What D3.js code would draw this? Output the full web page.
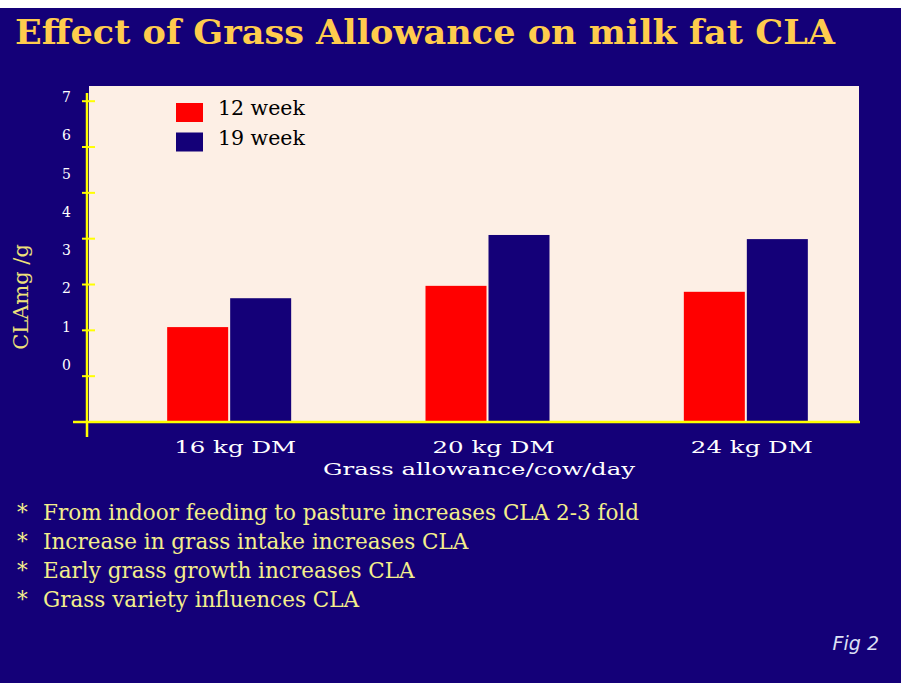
<!DOCTYPE html>
<html>
<head>
<meta charset="utf-8">
<script src="https://cdn.jsdelivr.net/npm/d3@7"></script>
<style>
  html, body { margin: 0; padding: 0; background: #ffffff; }
  svg { display: block; }
</style>
</head>
<body>
<svg id="chart" width="901" height="683"></svg>
<script>
// data
const categories = ["16 kg DM", "20 kg DM", "24 kg DM"];
const seriesNames = ["12 week", "19 week"];
const week12 = [2.06, 2.96, 2.83];
const week19 = [2.69, 4.07, 3.98];
const yTickLabels = [0, 1, 2, 3, 4, 5, 6, 7];
const bullets = [
  "From indoor feeding to pasture increases CLA 2-3 fold",
  "Increase in grass intake increases CLA",
  "Early grass growth increases CLA",
  "Grass variety influences CLA"
];

const bg = "#140078";
const seriesColors = ["#ff0000", "#140078"];
const serif = "'DejaVu Serif', 'Liberation Serif', serif";

const svg = d3.select("#chart");

// slide background (thin white strip on top)
svg.append("rect")
  .attr("x", 0).attr("y", 8)
  .attr("width", 901).attr("height", 675)
  .attr("fill", bg);

// title
svg.append("text")
  .attr("x", 15).attr("y", 44)
  .attr("font-family", serif)
  .attr("font-weight", "bold")
  .attr("font-size", 34)
  .attr("fill", "#ffcc4d")
  .attr("textLength", 820)
  .attr("lengthAdjust", "spacingAndGlyphs")
  .text("Effect of Grass Allowance on milk fat CLA");

// plot area
const plot = { left: 89, right: 859, top: 86, bottom: 421.5 };

svg.append("rect")
  .attr("x", plot.left).attr("y", plot.top)
  .attr("width", plot.right - plot.left)
  .attr("height", plot.bottom - plot.top)
  .attr("fill", "#fdefe5");

const x = d3.scaleBand()
  .domain(categories)
  .range([100, 875]);

const groupWidth = 124;
const xs = d3.scaleBand()
  .domain(seriesNames)
  .range([0, groupWidth]);

// tick marks sit on this scale
const y = d3.scaleLinear().domain([0, 7]).range([plot.bottom, 100.7]);
// the printed numbers sit a bit higher than the ticks on the original slide
const yLabel = d3.scaleLinear().domain([0, 7]).range([365, 97]);

const rows = categories.map((c, i) => ({ cat: c, values: [week12[i], week19[i]] }));

const groups = svg.append("g")
  .selectAll("g")
  .data(rows)
  .join("g")
  .attr("transform", d => `translate(${x(d.cat) + x.bandwidth() / 2 - groupWidth / 2},0)`);

groups.selectAll("rect")
  .data(d => d.values.map((v, k) => ({ name: seriesNames[k], value: v, k })))
  .join("rect")
  .attr("x", d => xs(d.name) + (d.k === 1 ? 1 : 0))
  .attr("width", d => xs.bandwidth() - 1)
  .attr("y", d => y(d.value))
  .attr("height", d => y(0) - y(d.value))
  .attr("fill", d => seriesColors[d.k]);

// y axis: yellow line with crossing ticks
svg.append("line")
  .attr("x1", 87).attr("x2", 87)
  .attr("y1", 93).attr("y2", 437)
  .attr("stroke", "#ffff00")
  .attr("stroke-width", 2.5);

const yTicks = svg.append("g")
  .attr("transform", "translate(95,0)")
  .call(d3.axisLeft(y).tickValues([1, 2, 3, 4, 5, 6, 7]).tickSize(13).tickFormat(""));
yTicks.select(".domain").remove();
yTicks.selectAll(".tick line").attr("stroke", "#ffff00").attr("stroke-width", 2);

const yLabels = svg.append("g")
  .attr("transform", "translate(71,0)")
  .call(d3.axisLeft(yLabel).tickValues(yTickLabels).tickSize(0).tickPadding(0).tickFormat(d3.format("d")));
yLabels.select(".domain").remove();
yLabels.selectAll("text")
  .attr("font-family", serif)
  .attr("font-size", 14)
  .attr("fill", "#ffffff");

// x axis baseline
svg.append("line")
  .attr("x1", 73).attr("x2", 860)
  .attr("y1", 422).attr("y2", 422)
  .attr("stroke", "#ffff00")
  .attr("stroke-width", 2.5);

const xAxis = svg.append("g")
  .attr("transform", "translate(6,422)")
  .call(d3.axisBottom(x).tickSize(0).tickPadding(0));
xAxis.select(".domain").remove();
xAxis.selectAll("text")
  .attr("dy", null)
  .attr("y", 31)
  .attr("font-family", serif)
  .attr("font-size", 17)
  .attr("textLength", 122)
  .attr("lengthAdjust", "spacingAndGlyphs")
  .attr("fill", "#ffffff");

// axis titles
svg.append("text")
  .attr("x", 479).attr("y", 475)
  .attr("text-anchor", "middle")
  .attr("font-family", serif)
  .attr("font-size", 17)
  .attr("textLength", 312)
  .attr("lengthAdjust", "spacingAndGlyphs")
  .attr("fill", "#ffffff")
  .text("Grass allowance/cow/day");

svg.append("text")
  .attr("transform", "translate(28,297) rotate(-90)")
  .attr("text-anchor", "middle")
  .attr("font-family", serif)
  .attr("font-size", 21)
  .attr("fill", "#eee27a")
  .text("CLAmg /g");

// legend
const legend = svg.append("g")
  .selectAll("g")
  .data(seriesNames)
  .join("g")
  .attr("transform", (d, i) => `translate(176,${103 + i * 29.5})`);

legend.append("rect")
  .attr("width", 27).attr("height", 19)
  .attr("fill", (d, i) => seriesColors[i]);

legend.append("text")
  .attr("x", 42).attr("y", 12)
  .attr("font-family", serif)
  .attr("font-size", 20.5)
  .attr("fill", "#000000")
  .text(d => d);

// bullet notes
const notes = svg.append("g")
  .selectAll("g")
  .data(bullets)
  .join("g")
  .attr("transform", (d, i) => `translate(0,${520 + i * 29})`);

notes.append("text")
  .attr("x", 17)
  .attr("font-family", serif)
  .attr("font-size", 21.5)
  .attr("fill", "#f3ee8c")
  .text("*");

notes.append("text")
  .attr("x", 43)
  .attr("font-family", serif)
  .attr("font-size", 21.5)
  .attr("fill", "#f3ee8c")
  .text(d => d);

// figure tag
svg.append("text")
  .attr("x", 879).attr("y", 650)
  .attr("text-anchor", "end")
  .attr("font-family", "'DejaVu Sans', sans-serif")
  .attr("font-style", "italic")
  .attr("font-size", 19)
  .attr("fill", "#dde0f5")
  .text("Fig 2");
</script>
</body>
</html>
